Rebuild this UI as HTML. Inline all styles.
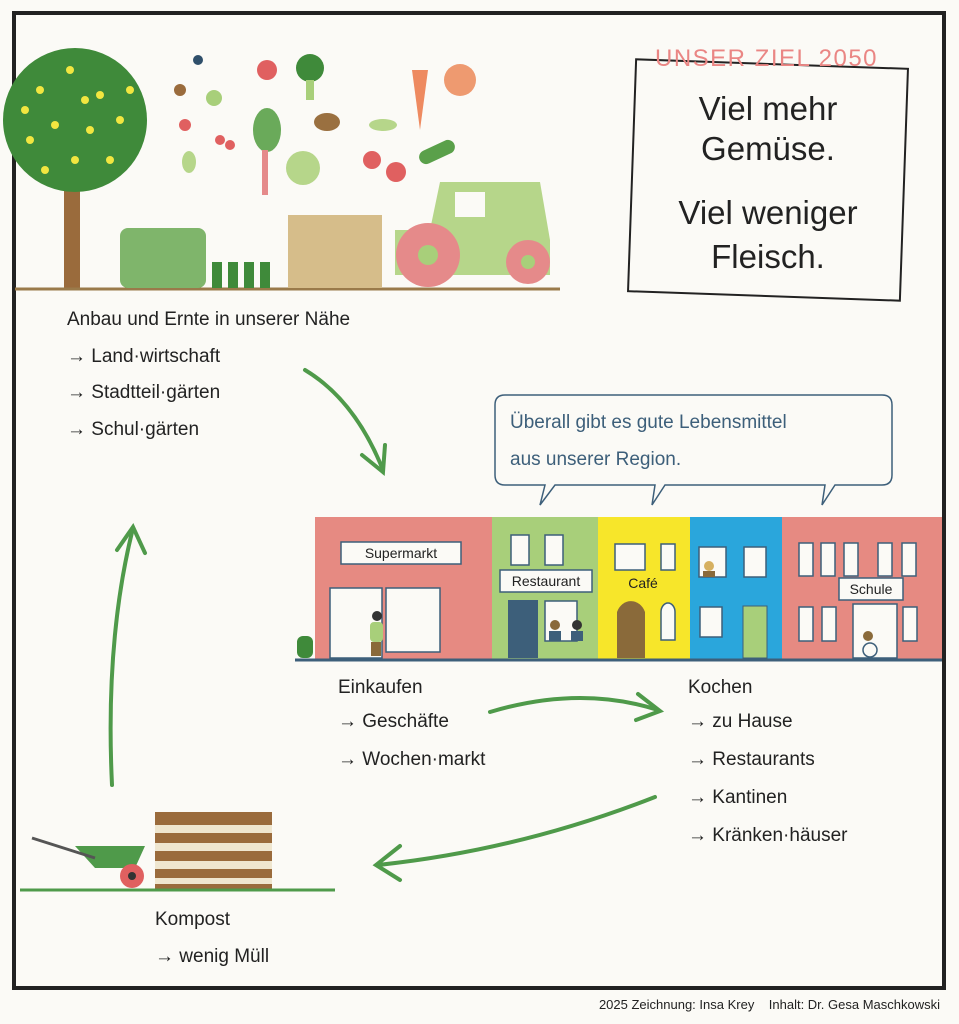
<!DOCTYPE html>
<html><head><meta charset="utf-8"><style>
html,body{margin:0;padding:0;background:#fbfaf6;}
svg{display:block}
text{font-family:"Liberation Sans",sans-serif;}
</style></head><body>
<svg width="959" height="1024" viewBox="0 0 959 1024" xmlns="http://www.w3.org/2000/svg">
<rect width="959" height="1024" fill="#fbfaf6"/>
<rect x="14" y="13" width="930" height="975" fill="none" stroke="#222" stroke-width="4"/>
<rect x="64" y="150" width="16" height="138" fill="#9a6b3c"/>
<circle cx="75" cy="120" r="72" fill="#3f8a3a"/>
<g fill="#f2e640">
<circle cx="40" cy="90" r="4"/><circle cx="70" cy="70" r="4"/><circle cx="100" cy="95" r="4"/><circle cx="55" cy="125" r="4"/><circle cx="90" cy="130" r="4"/><circle cx="120" cy="120" r="4"/><circle cx="30" cy="140" r="4"/><circle cx="75" cy="160" r="4"/><circle cx="110" cy="160" r="4"/><circle cx="45" cy="170" r="4"/><circle cx="25" cy="110" r="4"/><circle cx="130" cy="90" r="4"/><circle cx="85" cy="100" r="4"/>
</g>
<line x1="15" y1="289" x2="560" y2="289" stroke="#9a7a4a" stroke-width="3"/>
<rect x="120" y="228" width="86" height="60" rx="8" fill="#7fb56b"/>
<g fill="#3f8a3a"><rect x="212" y="262" width="10" height="26"/><rect x="228" y="262" width="10" height="26"/><rect x="244" y="262" width="10" height="26"/><rect x="260" y="262" width="10" height="26"/></g>
<rect x="288" y="215" width="94" height="73" fill="#d6bd8a"/>
<path d="M395 230 L430 230 L440 182 L540 182 L550 240 L550 275 L395 275 Z" fill="#b6d68a"/>
<rect x="455" y="192" width="30" height="25" fill="#fbfaf6"/>
<circle cx="428" cy="255" r="32" fill="#e58a8a"/><circle cx="428" cy="255" r="10" fill="#a8cf7a"/>
<circle cx="528" cy="262" r="22" fill="#e58a8a"/><circle cx="528" cy="262" r="7" fill="#a8cf7a"/>
<circle cx="198" cy="60" r="5" fill="#2f4f6a"/><circle cx="180" cy="90" r="6" fill="#9a6b3c"/><circle cx="214" cy="98" r="8" fill="#a8cf7a"/><circle cx="185" cy="125" r="6" fill="#e06060"/>
<circle cx="267" cy="70" r="10" fill="#e06060"/><circle cx="310" cy="68" r="14" fill="#3f8a3a"/><rect x="306" y="80" width="8" height="20" fill="#a8cf7a"/>
<path d="M412 70 L420 130 L428 70 Z" fill="#ee8a60"/><circle cx="460" cy="80" r="16" fill="#ee9a70"/>
<ellipse cx="267" cy="130" rx="14" ry="22" fill="#6aaa5a"/><rect x="262" y="150" width="6" height="45" fill="#e58a8a"/>
<ellipse cx="327" cy="122" rx="13" ry="9" fill="#9a7040"/><circle cx="303" cy="168" r="17" fill="#b6d68a"/>
<circle cx="372" cy="160" r="9" fill="#e06060"/><circle cx="396" cy="172" r="10" fill="#e06060"/>
<ellipse cx="383" cy="125" rx="14" ry="6" fill="#b6d68a"/><rect x="418" y="145" width="38" height="14" rx="7" fill="#5aa04a" transform="rotate(-25 437 152)"/>
<circle cx="220" cy="140" r="5" fill="#e06060"/><circle cx="230" cy="145" r="5" fill="#e06060"/><ellipse cx="189" cy="162" rx="7" ry="11" fill="#b6d68a"/>
<g transform="rotate(2 768 180)">
<rect x="632" y="64" width="272" height="232" fill="#fbfaf6" stroke="#222" stroke-width="2"/>
</g>
<text x="655" y="66" font-size="24" fill="#ea8684" letter-spacing="1.5">UNSER ZIEL 2050</text>
<g font-size="33" fill="#222" text-anchor="middle">
<text x="768" y="120">Viel mehr</text><text x="768" y="160">Gemüse.</text>
<text x="768" y="224">Viel weniger</text><text x="768" y="268">Fleisch.</text>
</g>
<g font-size="19" fill="#222">
<text x="67" y="325">Anbau und Ernte in unserer Nähe</text>
<text x="67" y="362">→ Land·wirtschaft</text>
<text x="67" y="398">→ Stadtteil·gärten</text>
<text x="67" y="435">→ Schul·gärten</text>
<text x="338" y="693">Einkaufen</text>
<text x="338" y="727">→ Geschäfte</text>
<text x="338" y="765">→ Wochen·markt</text>
<text x="688" y="693">Kochen</text>
<text x="688" y="727">→ zu Hause</text>
<text x="688" y="765">→ Restaurants</text>
<text x="688" y="803">→ Kantinen</text>
<text x="688" y="841">→ Kränken·häuser</text>
<text x="155" y="925">Kompost</text>
<text x="155" y="962">→ wenig Müll</text>
</g>
<path d="M505 395 H882 Q892 395 892 405 V475 Q892 485 882 485 H835 L822 505 L825 485 H665 L652 505 L655 485 H555 L540 505 L545 485 H505 Q495 485 495 475 V405 Q495 395 505 395 Z" fill="#fbfaf6" stroke="#3d5f7a" stroke-width="1.5"/>
<text x="510" y="428" font-size="19" fill="#3d5f7a">Überall gibt es gute Lebensmittel</text>
<text x="510" y="465" font-size="19" fill="#3d5f7a">aus unserer Region.</text>
<rect x="315" y="517" width="177" height="143" fill="#e68a82"/>
<rect x="492" y="517" width="106" height="143" fill="#a8cf7a"/>
<rect x="598" y="517" width="92" height="143" fill="#f7e62a"/>
<rect x="690" y="517" width="92" height="143" fill="#2aa6dc"/>
<rect x="782" y="517" width="160" height="143" fill="#e68a82"/>
<g fill="#fbfaf6" stroke="#3d5f7a" stroke-width="1.5">
<rect x="341" y="542" width="120" height="22"/><rect x="330" y="588" width="52" height="70"/><rect x="386" y="588" width="54" height="64"/>
<rect x="511" y="535" width="18" height="30"/><rect x="545" y="535" width="18" height="30"/><rect x="500" y="570" width="92" height="22"/><rect x="545" y="601" width="32" height="40"/>
<rect x="615" y="544" width="30" height="26"/><rect x="661" y="544" width="14" height="26"/>
<path d="M661 640 V612 A7 9 0 0 1 675 612 V640 Z"/>
<rect x="699" y="547" width="27" height="30"/><rect x="744" y="547" width="22" height="30"/><rect x="700" y="607" width="22" height="30"/>
<rect x="799" y="543" width="14" height="33"/><rect x="821" y="543" width="14" height="33"/><rect x="844" y="543" width="14" height="33"/><rect x="878" y="543" width="14" height="33"/><rect x="902" y="543" width="14" height="33"/>
<rect x="839" y="578" width="64" height="22"/>
<rect x="799" y="607" width="14" height="34"/><rect x="822" y="607" width="14" height="34"/><rect x="853" y="604" width="44" height="54"/><rect x="903" y="607" width="14" height="34"/>
</g>
<rect x="508" y="600" width="30" height="58" fill="#3d5f7a"/>
<path d="M617 658 V612 A15 17 0 0 1 645 612 V658 Z" fill="#8a6a3a"/>
<rect x="743" y="606" width="24" height="52" fill="#a8cf7a" stroke="#3d5f7a"/>
<circle cx="377" cy="616" r="5" fill="#333"/><rect x="370" y="622" width="13" height="20" rx="4" fill="#a8cf7a"/><rect x="371" y="642" width="10" height="14" fill="#8a6a3a"/>
<circle cx="555" cy="625" r="5" fill="#8a6a3a"/><rect x="549" y="631" width="12" height="10" fill="#3d5f7a"/>
<circle cx="577" cy="625" r="5" fill="#333"/><rect x="571" y="631" width="12" height="10" fill="#3d5f7a"/>
<circle cx="709" cy="566" r="5" fill="#d6b060"/><rect x="703" y="571" width="12" height="6" fill="#8a6a3a"/>
<circle cx="868" cy="636" r="5" fill="#8a6a3a"/><circle cx="870" cy="650" r="7" fill="none" stroke="#3d5f7a" stroke-width="1.5"/>
<g font-size="14" fill="#222" text-anchor="middle">
<text x="401" y="558">Supermarkt</text><text x="546" y="586">Restaurant</text><text x="643" y="588">Café</text><text x="871" y="594">Schule</text>
</g>
<rect x="297" y="636" width="16" height="22" rx="6" fill="#3f8a3a"/>
<line x1="295" y1="660" x2="942" y2="660" stroke="#3d5f7a" stroke-width="3"/>
<rect x="155" y="812" width="117" height="78" fill="#9a6b3c"/>
<g fill="#efe6cf"><rect x="155" y="825" width="117" height="8"/><rect x="155" y="843" width="117" height="8"/><rect x="155" y="861" width="117" height="8"/><rect x="155" y="878" width="117" height="6"/></g>
<path d="M75 846 L145 846 L135 868 L95 868 Z" fill="#4f9a4a"/>
<line x1="32" y1="838" x2="95" y2="858" stroke="#555" stroke-width="3"/>
<circle cx="132" cy="876" r="12" fill="#e06060"/><circle cx="132" cy="876" r="4" fill="#333"/>
<line x1="20" y1="890" x2="335" y2="890" stroke="#4f9a4a" stroke-width="3"/>
<g fill="none" stroke="#4f9a4a" stroke-width="4" stroke-linecap="round">
<path d="M305 370 Q355 400 383 470"/><path d="M362 455 L383 472 L385 445"/>
<path d="M112 785 Q105 640 133 528"/><path d="M117 550 L133 527 L145 553"/>
<path d="M490 712 Q580 685 658 710"/><path d="M638 694 L660 711 L636 720"/>
<path d="M655 797 Q520 850 378 865"/><path d="M400 846 L376 865 L400 880"/>
</g>
<text x="940" y="1009" font-size="13" fill="#222" text-anchor="end" xml:space="preserve">2025 Zeichnung: Insa Krey    Inhalt: Dr. Gesa Maschkowski</text>
</svg>
</body></html>
